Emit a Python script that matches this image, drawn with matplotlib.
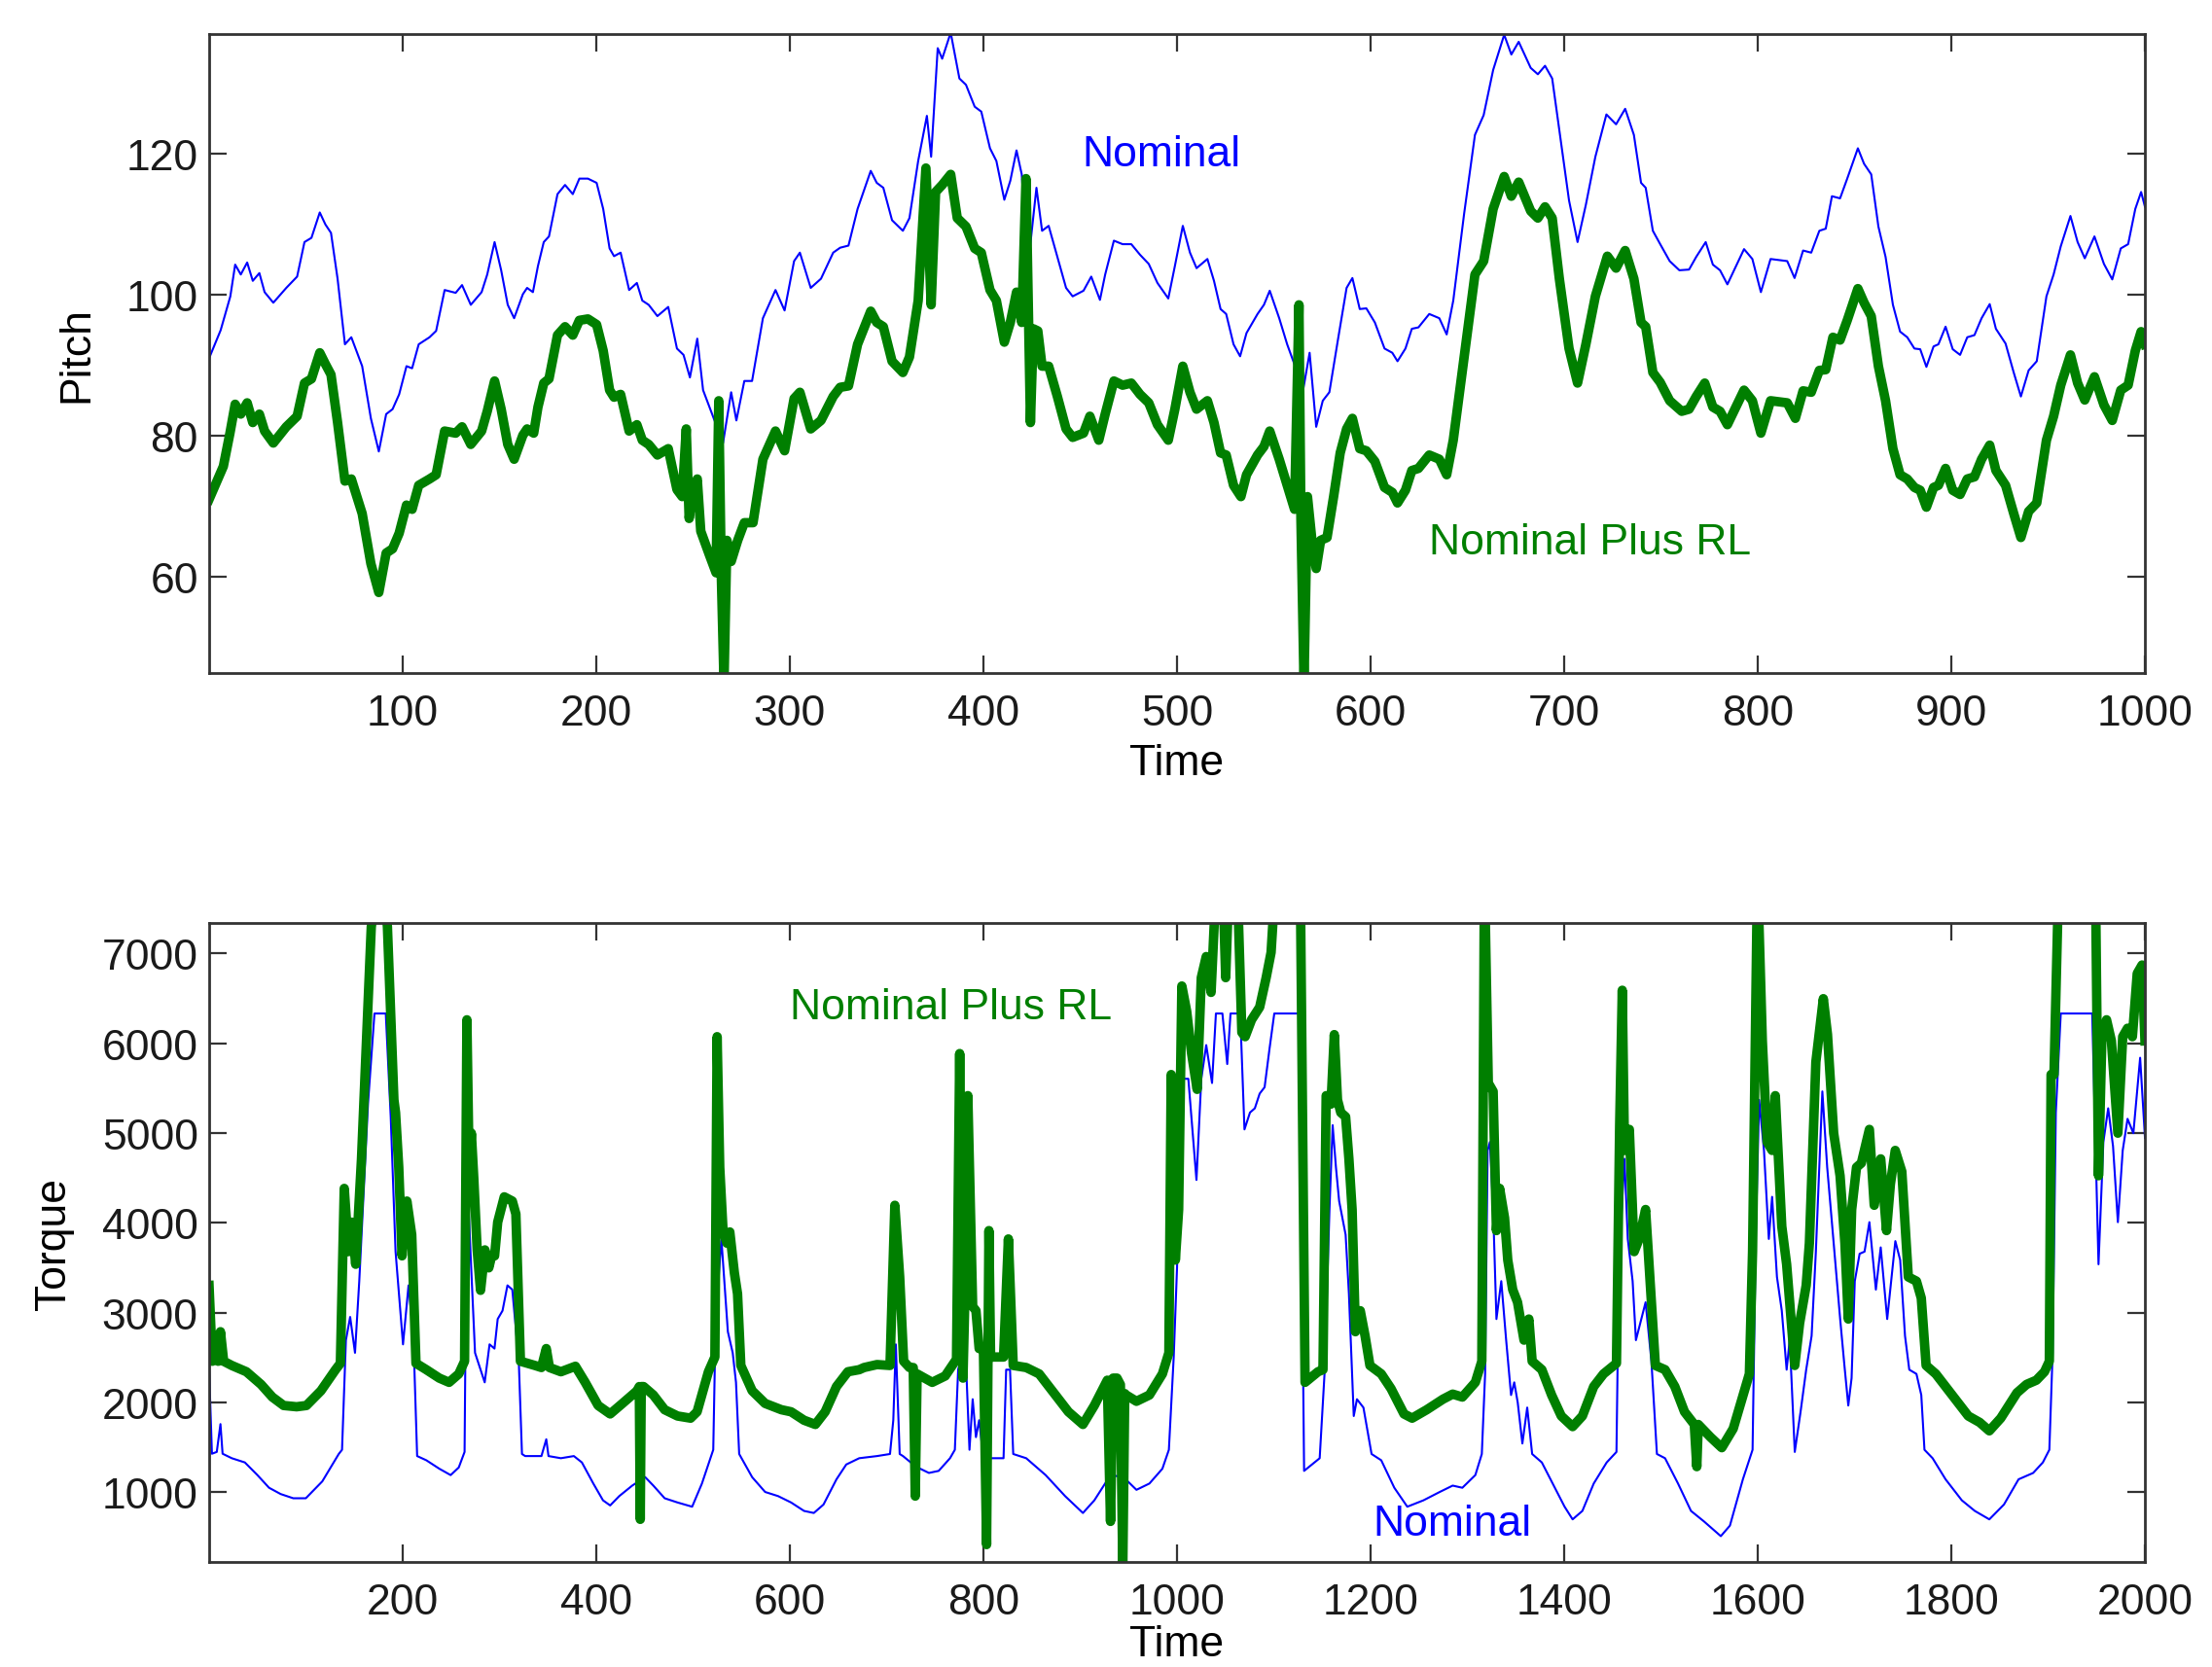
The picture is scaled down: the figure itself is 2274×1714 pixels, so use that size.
## {{{                          --     imports     --
import matplotlib
matplotlib.use('Agg')
import matplotlib.pyplot as plt

plt.rcParams['font.family'] = ['Liberation Sans', 'DejaVu Sans']
##────────────────────────────────────────────────────────────────────────────}}}

## {{{                          --     data: pitch     --
# values (time, value); 7900 in torque = clipped above the axes
pitch_nom_t = [0, 6, 11, 13.5, 16.4, 19.7, 22.6, 26, 28.7, 33.2, 39.9, 45.5, 49.3, 52.9, 57.2, 60.1, 63,
               66.4, 70.2, 73.5, 79.1, 83.6, 87.7, 91.5, 94.8, 98.2, 102, 104.9, 108.3, 113.9, 117.3,
               121.7, 127.4, 130.7, 135.2, 140.8, 143.7, 147.5, 150.9, 154.3, 157.6, 162.1, 164.3,
               167.3, 169.9, 172.9, 175.6, 180, 183.9, 187.9, 191.3, 195.7, 200.2, 203.6, 206.9, 209.2,
               212.6, 217, 221, 223.8, 227.1, 231.6, 237.2, 241.7, 245.1, 248.4, 252.2, 255.2, 261.9,
               265.5, 269.7, 272.4, 276.5, 280.5, 286.1, 292.6, 297.3, 302.2, 305.2, 310.8, 316.1,
               322.4, 326, 330.3, 335, 341.8, 344.9, 348.3, 352.8, 358.4, 361.8, 366.3, 370.8, 373,
               376.4, 378.7, 383.1, 387.6, 391, 395.5, 398.9, 403.4, 406.7, 410.8, 413.9, 417.1, 419.8,
               422.9, 427.4, 430.3, 433.7, 438.2, 442.7, 446.1, 451.7, 455.7, 460.2, 462.9, 467.4,
               471.9, 476.4, 480.9, 485.4, 489.9, 495.5, 498.9, 503, 506.7, 510.1, 515.7, 519.1, 522.5,
               525.4, 529.2, 532.6, 535.9, 541.6, 544.9, 547.9, 552.8, 556.9, 561.8, 564.5, 568.5,
               571.9, 575.3, 578.7, 583.1, 587.6, 590.6, 594.4, 597.8, 602.2, 607.2, 611.2, 613.9, 618,
               621.3, 624.7, 630.3, 635.5, 639.3, 642.7, 648.3, 653.9, 658.4, 663.3, 669, 672.7, 676.5,
               682.7, 686.4, 690.1, 693.8, 697.5, 702.5, 706.9, 711.2, 716.1, 721.8, 726.8, 731.5, 736,
               739.7, 742.1, 745.8, 749.6, 754.5, 759.5, 764.5, 768.2, 773.1, 776.8, 780.5, 784.3,
               792.9, 797.2, 801.6, 806.6, 815.2, 819, 823.4, 827.6, 831.8, 835.1, 838.3, 842.5, 846.2,
               851.7, 854.9, 858.6, 862.3, 866, 869.8, 873.5, 877.2, 880.9, 883.9, 887.1, 890.8, 893.3,
               897, 900.7, 904.5, 908.2, 911.9, 915.6, 919.8, 923, 928, 932.2, 935.9, 939.9, 944.1,
               949.1, 952.8, 956.5, 961.5, 965.2, 968.9, 973.9, 978.8, 983.1, 987.5, 991.3, 995, 998,
               1000]
pitch_nom = [91, 95, 99.8, 104.3, 102.9, 104.6, 102, 103.1, 100.4, 98.9, 101, 102.6, 107.5, 108.1, 111.7,
             110, 108.8, 102.3, 93, 94, 89.9, 82.5, 77.8, 83.1, 83.8, 85.9, 89.9, 89.6, 93, 94, 94.9,
             100.7, 100.3, 101.4, 98.6, 100.4, 102.9, 107.5, 103.5, 98.6, 96.7, 100.1, 101, 100.4,
             104.1, 107.5, 108.3, 114.3, 115.6, 114.3, 116.5, 116.5, 115.9, 112.2, 106.6, 105.5, 106,
             100.7, 101.7, 99.2, 98.6, 97, 98.3, 92.4, 91.5, 88.3, 93.8, 86.5, 81.6, 79, 86.2, 82.2,
             87.8, 87.8, 96.7, 100.7, 97.8, 104.8, 106, 101, 102.3, 106, 106.7, 107, 112.2, 117.6,
             115.9, 115.2, 110.6, 109.1, 110.9, 119, 125.4, 119.6, 135, 133.5, 137.2, 130.7, 129.8,
             126.7, 126, 120.8, 119, 113.5, 116.2, 120.5, 117.1, 103.8, 115.2, 109.1, 109.8, 105.4,
             101, 99.8, 100.6, 102.6, 99.3, 102.9, 107.7, 107.2, 107.2, 105.7, 104.4, 101.7, 99.5,
             104.1, 109.8, 106, 103.8, 105.1, 102, 98, 97.3, 93, 91.3, 94.6, 97.3, 98.6, 100.6, 96.7,
             93, 89.3, 85.5, 91.8, 81.3, 85, 86.2, 93.6, 101, 102.4, 98, 98.1, 96.1, 92.4, 91.8, 90.6,
             92.4, 95.2, 95.4, 97.3, 96.7, 94.4, 99.2, 111.5, 122.7, 125.5, 131.9, 136.9, 134.1,
             135.9, 132.2, 131.3, 132.5, 130.7, 123.3, 113.4, 107.5, 112.8, 119.6, 125.6, 124.2,
             126.4, 122.7, 115.9, 115.2, 109.1, 107.2, 104.8, 103.5, 103.6, 105.4, 107.5, 104.3,
             103.5, 101.5, 106.5, 105.1, 100.4, 105.1, 104.8, 102.4, 106.3, 106, 109.1, 109.4, 114,
             113.7, 116.5, 120.8, 118.6, 117.1, 109.7, 105.4, 98.6, 94.8, 94, 92.4, 92.3, 89.8, 92.7,
             93, 95.5, 92.3, 91.5, 94, 94.3, 96.7, 98.7, 95.2, 93.1, 89, 85.6, 89.3, 90.6, 99.8,
             102.9, 106.9, 111.2, 107.5, 105.2, 108.3, 104.4, 102.2, 106.6, 107.2, 112.2, 114.6,
             112.5]

pitch_rl_t = [0, 7.4, 10.8, 13.5, 16.4, 19.7, 22.6, 26, 28.7, 33.2, 39.9, 45.5, 49.3, 52.9, 57.2, 60.1,
              63, 66.4, 70.2, 73.5, 79.1, 83.6, 87.7, 91.5, 94.8, 98.2, 102, 104.9, 108.3, 113.9,
              117.3, 121.7, 127.4, 130.7, 135.2, 140.8, 143.7, 147.5, 150.9, 154.3, 157.6, 162.1,
              164.3, 167.7, 169.9, 172.9, 175.6, 180, 183.9, 187.9, 191.3, 195.7, 200.2, 203.6, 206.9,
              209.2, 212.6, 217, 221, 223.8, 227.1, 231.6, 237.2, 241.7, 244.4, 246.5, 248, 249.6,
              252.2, 254, 258.5, 261.9, 263.3, 264.6, 266, 267.5, 269.7, 273.1, 276.5, 281, 286.1,
              292.6, 297.3, 302.2, 305.2, 310.8, 316.1, 322.4, 326, 330.3, 335, 341.8, 344.9, 348.3,
              352.8, 358.4, 361.8, 366.3, 370.3, 373, 375.3, 378.7, 383.1, 386.5, 391, 395.5, 398.9,
              403.4, 406.7, 410.8, 413.9, 417.1, 419.8, 422, 424.3, 425.8, 428.1, 430.3, 433.7, 438.2,
              442.7, 446.1, 451.7, 455, 459.6, 462.9, 467.4, 471.9, 476.4, 480.9, 485.4, 489.9, 495.5,
              498.9, 503, 506.7, 510.1, 515.7, 519.1, 522.5, 525.4, 529.2, 533, 535.9, 541.6, 544.9,
              547.9, 552.8, 556.9, 560.7, 563, 564, 565.6, 567.4, 569.7, 571.9, 574.2, 577.5, 580.9,
              584.3, 587.6, 590.6, 594.4, 597.8, 602.2, 607.2, 611.2, 613.9, 618, 621.3, 624.7, 630.3,
              635.5, 639.3, 642.7, 648.3, 653.9, 658.4, 663.3, 669, 672.7, 676.5, 682.7, 686.4, 690.1,
              693.8, 697.5, 702.5, 706.9, 711.2, 716.1, 722.3, 726.8, 731.5, 736, 739.7, 742.1, 745.8,
              749.6, 754.5, 760.7, 764.5, 768.2, 772.6, 776.8, 780.5, 784.3, 792.9, 797.2, 801.6,
              806.6, 815.2, 819.4, 823.4, 827.6, 831.8, 835.1, 838.8, 842.5, 846.2, 851.7, 854.9,
              858.6, 862.3, 866, 869.8, 873.5, 877.2, 880.9, 883.9, 887.1, 890.8, 893.3, 897, 900.7,
              904.5, 908.2, 911.9, 915.6, 919.8, 923, 928, 932.2, 935.9, 939.9, 944.1, 949.1, 952.8,
              956.5, 961.5, 965.2, 968.9, 973.9, 978.8, 983.1, 987.5, 991.3, 995, 998, 1000]
pitch_rl = [71, 75.7, 80.4, 84.5, 83.1, 84.7, 81.9, 83.1, 80.7, 79, 81.3, 82.8, 87.5, 88.1, 91.8, 90.2,
            88.7, 81.9, 73.6, 73.9, 69, 61.9, 57.8, 63.4, 64, 66.2, 70.2, 69.6, 73, 73.9, 74.5, 80.7,
            80.4, 81.3, 78.8, 80.7, 83.5, 87.8, 83.8, 78.8, 76.7, 80.1, 81, 80.4, 84.1, 87.5, 88.1,
            94.3, 95.5, 94.3, 96.4, 96.6, 95.8, 92.1, 86.5, 85.5, 85.9, 80.7, 81.6, 79.4, 78.8, 77.3,
            78.2, 72.4, 71.4, 81, 68.3, 72, 73.9, 66.5, 63.1, 60.6, 85, 60.3, 45, 65.2, 62.2, 65.2,
            67.7, 67.7, 76.7, 80.7, 77.9, 85.3, 86.2, 81, 82.2, 85.6, 86.9, 87.1, 93, 97.7, 96.1, 95.5,
            90.6, 89, 91.2, 99.2, 118, 98.6, 114.6, 115.6, 117.1, 110.9, 109.7, 106.6, 106, 100.7,
            99.2, 93.3, 96.1, 100.4, 96.1, 116.5, 81.9, 95.2, 94.9, 89.9, 89.9, 85.6, 81, 79.8, 80.4,
            82.8, 79.4, 83.1, 87.8, 87.2, 87.5, 85.9, 84.7, 81.6, 79.4, 83.8, 89.9, 86.2, 83.8, 85,
            81.9, 77.6, 77.3, 73, 71.4, 74.5, 77.3, 78.5, 80.7, 76.7, 73, 69.6, 98.6, 68.3, 45, 71.4,
            65.2, 61.2, 65.2, 65.6, 71.4, 77.6, 81, 82.5, 78.2, 77.9, 76.4, 72.7, 72, 70.5, 72.3, 75.1,
            75.4, 77.3, 76.7, 74.5, 79.4, 91.2, 102.9, 104.8, 112.2, 116.8, 114, 116, 111.9, 110.9,
            112.5, 110.9, 102.3, 92.4, 87.5, 93, 99.8, 105.5, 103.8, 106.3, 102.3, 96.1, 95.5, 89,
            87.6, 85, 83.5, 83.8, 85.6, 87.5, 84.1, 83.5, 81.6, 86.5, 85, 80.4, 85, 84.7, 82.5, 86.4,
            86.2, 89.3, 89.4, 94, 93.6, 96.4, 100.9, 98.9, 97, 89.9, 85, 78.2, 74.5, 73.9, 72.7, 72.3,
            69.9, 72.7, 73, 75.4, 72.3, 71.7, 73.9, 74.2, 76.7, 78.7, 75.1, 73, 69, 65.6, 69.3, 70.5,
            79.4, 82.8, 87.2, 91.5, 87.5, 85.1, 88.4, 84.4, 82.2, 86.5, 87.2, 92.1, 94.8, 93]
##────────────────────────────────────────────────────────────────────────────}}}

## {{{                          --     data: torque     --
torque_nom_t = [0, 3, 8, 11.8, 14, 23.5, 37, 50, 62, 74, 87, 100, 117, 134, 137.4, 141.4, 145.8, 150.8,
                155.2, 164.2, 170.9, 182.6, 187.7, 192.7, 200.4, 206.1, 211.1, 215, 224.5, 237.9,
                249.6, 258, 264, 266.4, 269.7, 274.8, 284.8, 289.8, 294.9, 298.2, 303.2, 308.3, 313.3,
                320, 323.3, 326.6, 343.4, 348.4, 350.7, 363.5, 376.9, 385.2, 397, 407, 414.4, 423.8,
                437.2, 450.6, 459, 470.7, 484, 499.1, 509.2, 520.9, 522.6, 525.9, 529.3, 532.6, 536,
                541, 544.4, 547.7, 561.1, 574.5, 587.9, 601.3, 614.7, 624.8, 634.8, 648.2, 658.3,
                671.7, 690.1, 703.5, 706.9, 709.5, 713.5, 716.9, 730.3, 743.7, 753.8, 765.5, 770.5,
                773.9, 777.2, 782.2, 785.6, 788.9, 792.3, 795.6, 799, 804, 820.8, 823.5, 827.5, 830.8,
                844.2, 864.3, 884.4, 902.8, 914.6, 931.3, 944.7, 958.1, 971.5, 984.9, 991.6, 996.6,
                1000, 1005, 1011.7, 1020.1, 1025.1, 1030.2, 1036.2, 1040.2, 1046.9, 1051.9, 1055.3,
                1065.3, 1069.7, 1075.4, 1080.4, 1085.4, 1090.5, 1095.5, 1100.5, 1126.6, 1131.3,
                1147.4, 1152.4, 1157.5, 1160.8, 1164.2, 1167.5, 1170.9, 1174.2, 1177.6, 1182.6,
                1185.9, 1192.6, 1201, 1211, 1224.5, 1237.9, 1254.6, 1271.4, 1284.8, 1294.8, 1308.2,
                1314.9, 1318.3, 1320.9, 1323.3, 1326.6, 1330, 1335, 1340, 1345.1, 1348.4, 1352,
                1356.8, 1361.8, 1366.9, 1376.9, 1390.3, 1400.4, 1408.7, 1418.8, 1430.5, 1443.9, 1454,
                1456.6, 1462.3, 1465.7, 1470.7, 1474.1, 1479.1, 1484.1, 1490.1, 1495.8, 1504.2,
                1517.6, 1531, 1544.4, 1561.8, 1571.2, 1584.6, 1594.6, 1598, 1601.4, 1606.4, 1611.4,
                1614.8, 1619.8, 1624.8, 1629.8, 1633, 1638.2, 1644.2, 1650, 1655.6, 1660, 1666.7,
                1671.7, 1678.4, 1685.1, 1689.5, 1693.5, 1696.9, 1700.2, 1705.2, 1710.3, 1715.3, 1722,
                1727, 1733.7, 1742.1, 1747.1, 1752.1, 1756.5, 1763.9, 1768.9, 1772.2, 1780.6, 1794,
                1810.8, 1824.2, 1839.2, 1854.3, 1869.4, 1884.5, 1894.5, 1901.2, 1904.6, 1907.9, 1913,
                1945.5, 1952, 1957, 1962, 1967, 1972, 1977, 1982, 1988, 1995, 2000]
torque_nom = [2400, 1430, 1450, 1760, 1430, 1380, 1333, 1192, 1051, 981, 934, 934, 1122, 1427, 1474,
              2695, 2953, 2554, 3352, 5324, 6333, 6333, 5183, 3681, 2648, 3305, 2742, 1404, 1357, 1263,
              1192, 1277, 1450, 4620, 3775, 2554, 2225, 2648, 2601, 2930, 3023, 3305, 3258, 2460, 1427,
              1404, 1404, 1591, 1404, 1380, 1404, 1333, 1098, 911, 854, 958, 1075, 1169, 1075, 934, 887,
              840, 1098, 1474, 2460, 3305, 3822, 3305, 2789, 2554, 2225, 1427, 1169, 1004, 958, 887,
              793, 770, 864, 1145, 1310, 1380, 1404, 1427, 1803, 2648, 1427, 1404, 1286, 1216, 1239,
              1380, 1474, 2366, 2507, 2390, 1474, 2037, 1615, 1803, 1474, 1380, 1380, 2366, 2366, 1427,
              1380, 1192, 958, 770, 911, 1192, 1169, 1028, 1098, 1263, 1474, 2507, 3493, 5606, 5606,
              4479, 5606, 5981, 5559, 6333, 6333, 5770, 6333, 6333, 5042, 5230, 5277, 5441, 5512, 5934,
              6333, 6333, 1239, 1380, 2319, 4150, 5089, 4620, 4244, 4056, 3869, 3211, 1850, 2037, 1944,
              1427, 1357, 1051, 840, 911, 1004, 1075, 1051, 1192, 1427, 2319, 4808, 4901, 4150, 2930,
              3352, 2700, 2084, 2225, 2000, 1544, 1944, 1427, 1333, 1051, 840, 699, 793, 1098, 1333,
              1450, 3587, 4714, 3822, 3352, 2695, 2906, 3117, 2460, 1427, 1380, 1098, 793, 676, 512,
              629, 1145, 1474, 3915, 5371, 4808, 3822, 4291, 3399, 3023, 2366, 2700, 1450, 1897, 2366,
              2742, 3681, 5465, 4620, 3775, 2930, 2413, 1967, 2272, 3352, 3657, 3681, 4009, 3258, 3728,
              2930, 3798, 3587, 2742, 2366, 2319, 2084, 1474, 1380, 1145, 911, 793, 699, 864, 1145,
              1216, 1333, 1474, 2554, 5230, 6333, 6333, 3540, 4901, 5277, 4855, 4009, 4808, 5160, 5000,
              5840, 4948]

torque_rl_t = [0, 3.4, 6.8, 9.4, 11.8, 15.1, 23.5, 38.6, 53.7, 65.4, 77.1, 90.5, 100.6, 115.6, 130.7,
               135.7, 139.7, 144.1, 147.5, 151.5, 157.5, 167.6, 175, 180, 184.3, 191, 192.7, 196,
               199.4, 204.4, 209.4, 213.8, 224.5, 237.9, 248, 258, 264, 266.4, 268.7, 271, 273.5, 277,
               280.5, 285, 289, 292, 295, 298.2, 305, 313.3, 317, 321.7, 336.7, 343.4, 348.4, 351.7,
               363.5, 378.5, 388.6, 402, 414.4, 427.1, 442.2, 444.5, 445.5, 446.5, 448.9, 459, 470.7,
               484, 497.5, 504.2, 515.9, 522.6, 524.9, 527.6, 531, 535, 538, 542.7, 546, 549.4, 561.1,
               574.5, 591.3, 601.3, 614.7, 626.4, 636.5, 648.2, 660, 671.7, 676.7, 690.1, 703.5, 708.5,
               713.5, 717.6, 723.6, 727.5, 729.6, 731.5, 747.1, 760.5, 772.2, 775.5, 778.9, 780.5,
               783.9, 788.9, 792.3, 795.6, 800, 803.3, 805.7, 807.4, 820.8, 825.8, 830.8, 844.2, 857.6,
               874.4, 887.8, 902.8, 914.6, 928, 931.3, 934, 938, 941.5, 944, 946, 947.4, 958.1, 971.5,
               984.9, 991.6, 994, 998.3, 1001.7, 1005, 1010, 1015.1, 1020.8, 1025.1, 1030.2, 1035.2,
               1038.5, 1043, 1047, 1050.3, 1054, 1062, 1067, 1070.4, 1077, 1085.4, 1092.1, 1097.2,
               1102.2, 1127.3, 1132.3, 1145.7, 1150.8, 1154.1, 1159.1, 1162.5, 1165.8, 1169.2, 1174.2,
               1177.6, 1180.9, 1184.3, 1189.3, 1194.3, 1199.3, 1211, 1221.1, 1234.5, 1242.9, 1258,
               1274.7, 1284.8, 1294.8, 1308.2, 1314.9, 1317.6, 1321.6, 1326.6, 1330, 1333.3, 1338.4,
               1341.7, 1346.8, 1351.8, 1358.5, 1363.5, 1366.9, 1376.9, 1387, 1397, 1408.7, 1418.8,
               1430.5, 1440.6, 1454, 1457.3, 1460, 1462.3, 1467.3, 1472.3, 1477.4, 1484.1, 1494.2,
               1504.2, 1514.3, 1524.3, 1534.4, 1537, 1538.5, 1551.1, 1562.8, 1574.6, 1591.3, 1594.6,
               1599.7, 1604.7, 1609.7, 1614.8, 1618.1, 1624.8, 1629.8, 1638.2, 1643.2, 1650, 1653.3,
               1660, 1667.7, 1672, 1678.4, 1685, 1690, 1693.5, 1697, 1702, 1707, 1715.3, 1720.3, 1727,
               1733, 1737, 1742, 1748.8, 1755.5, 1763.9, 1768.9, 1773.9, 1783.9, 1800.7, 1817.5,
               1829.2, 1839.2, 1851, 1867.7, 1877.7, 1887.8, 1896.2, 1901.2, 1903, 1906, 1911, 1948.8,
               1952, 1955.4, 1960.3, 1965.3, 1972, 1977, 1982, 1987, 1992, 1997, 2000]
torque_rl = [3305, 2460, 2742, 2460, 2789, 2460, 2413, 2343, 2202, 2061, 1967, 1953, 1967, 2131, 2366,
             2437, 4385, 3681, 4009, 3540, 4714, 7296, 7900, 7900, 7296, 5371, 5230, 4620, 3634, 4244,
             3869, 2437, 2366, 2272, 2225, 2319, 2460, 6263, 4620, 5000, 4500, 3700, 3250, 3700, 3500,
             3634, 3634, 4009, 4291, 4244, 4100, 2460, 2413, 2390, 2601, 2390, 2343, 2404, 2225, 1967,
             1873, 1990, 2131, 2178, 699, 2178, 2178, 2084, 1920, 1850, 1826, 1897, 2343, 2507, 6075,
             4620, 3915, 3775, 3900, 3446, 3211, 2413, 2131, 1990, 1920, 1897, 1803, 1756, 1897, 2178,
             2343, 2366, 2390, 2423, 2413, 4197, 3399, 2460, 2390, 2390, 958, 2319, 2225, 2296, 2483,
             5887, 2272, 3000, 5418, 3070, 3023, 2601, 2600, 418, 3915, 2507, 2507, 3822, 2413, 2390,
             2319, 2084, 1897, 1756, 1967, 2249, 676, 2272, 2272, 2200, 150, 2100, 2084, 2014, 2084,
             2319, 2554, 5653, 3587, 4150, 6639, 6357, 5887, 5488, 6732, 6967, 6568, 7343, 7900, 7900,
             6732, 7900, 7900, 6122, 6075, 6263, 6404, 6732, 7014, 7900, 7900, 2225, 2343, 2366, 5418,
             5324, 6098, 5371, 5230, 5183, 4714, 4150, 2789, 3023, 2742, 2413, 2319, 2155, 1873, 1826,
             1920, 2037, 2094, 2061, 2225, 2460, 7900, 5559, 5465, 3915, 4385, 4056, 3587, 3258, 3117,
             2695, 2930, 2460, 2366, 2084, 1850, 1732, 1850, 2178, 2319, 2437, 5089, 6592, 4808, 5042,
             3681, 3822, 4150, 2413, 2366, 2178, 1897, 1756, 1286, 1756, 1615, 1497, 1709, 2319, 3681,
             7900, 6028, 4901, 4808, 5418, 3962, 3540, 2413, 2883, 3305, 3775, 5793, 6498, 6100, 5000,
             4526, 3775, 2930, 4150, 4620, 4667, 5042, 4197, 4714, 3915, 4432, 4808, 4573, 3399, 3352,
             3164, 2413, 2319, 2084, 1850, 1779, 1685, 1826, 2108, 2202, 2249, 2343, 2460, 5653, 5653,
             7900, 7900, 4526, 6028, 6263, 6028, 5000, 6075, 6169, 6075, 6779, 6873, 6028]
##────────────────────────────────────────────────────────────────────────────}}}

## {{{                          --     plot     --
NOM_C = '#0000ff'
RL_C = '#007f00'
SPINE_C = '#333333'
FS = 32

fig = plt.figure(figsize=(22.74, 17.15), dpi=100)
ax_p = fig.add_axes([0.0945, 0.596, 0.8752, 0.383])
ax_t = fig.add_axes([0.0945, 0.063, 0.8752, 0.383])


def style(ax):
    for s in ax.spines.values():
        s.set_color(SPINE_C)
        s.set_linewidth(2.0)
    ax.tick_params(direction='in', top=True, right=True, length=13, width=1.6,
                   color=SPINE_C, labelsize=FS, labelcolor='#1a1a1a')
    ax.tick_params(axis='x', pad=15)
    ax.tick_params(axis='y', pad=8)


ax_p.plot(pitch_nom_t, pitch_nom, color=NOM_C, lw=1.5)
ax_p.plot(pitch_rl_t, pitch_rl, color=RL_C, lw=7.0, solid_joinstyle='round')
ax_p.set_xlim(0, 1000)
ax_p.set_ylim(46.4, 137)
ax_p.set_xticks(range(100, 1001, 100))
ax_p.set_yticks([60, 80, 100, 120])
ax_p.text(451, 120, 'Nominal', color=NOM_C, fontsize=FS, va='center', ha='left')
ax_p.text(630, 65, 'Nominal Plus RL', color=RL_C, fontsize=FS, va='center', ha='left')
ax_p.set_xlabel('Time', fontsize=FS)
ax_p.set_ylabel('Pitch', fontsize=FS)
style(ax_p)

ax_t.plot(torque_nom_t, torque_nom, color=NOM_C, lw=1.5)
ax_t.plot(torque_rl_t, torque_rl, color=RL_C, lw=7.0, solid_joinstyle='round')
ax_t.set_xlim(0, 2000)
ax_t.set_ylim(225, 7340)
ax_t.set_xticks(range(200, 2001, 200))
ax_t.set_yticks(range(1000, 7001, 1000))
ax_t.text(600, 6404, 'Nominal Plus RL', color=RL_C, fontsize=FS, va='center', ha='left')
ax_t.text(1202, 653, 'Nominal', color=NOM_C, fontsize=FS, va='center', ha='left')
ax_t.set_xlabel('Time', fontsize=FS)
ax_t.set_ylabel('Torque', fontsize=FS)
style(ax_t)

ax_p.yaxis.set_label_coords(-0.058, 0.5)
ax_t.yaxis.set_label_coords(-0.070, 0.5)
ax_p.xaxis.set_label_coords(0.5, -0.11)
ax_t.xaxis.set_label_coords(0.5, -0.097)

fig.savefig('out.png', dpi=100)
##────────────────────────────────────────────────────────────────────────────}}}
